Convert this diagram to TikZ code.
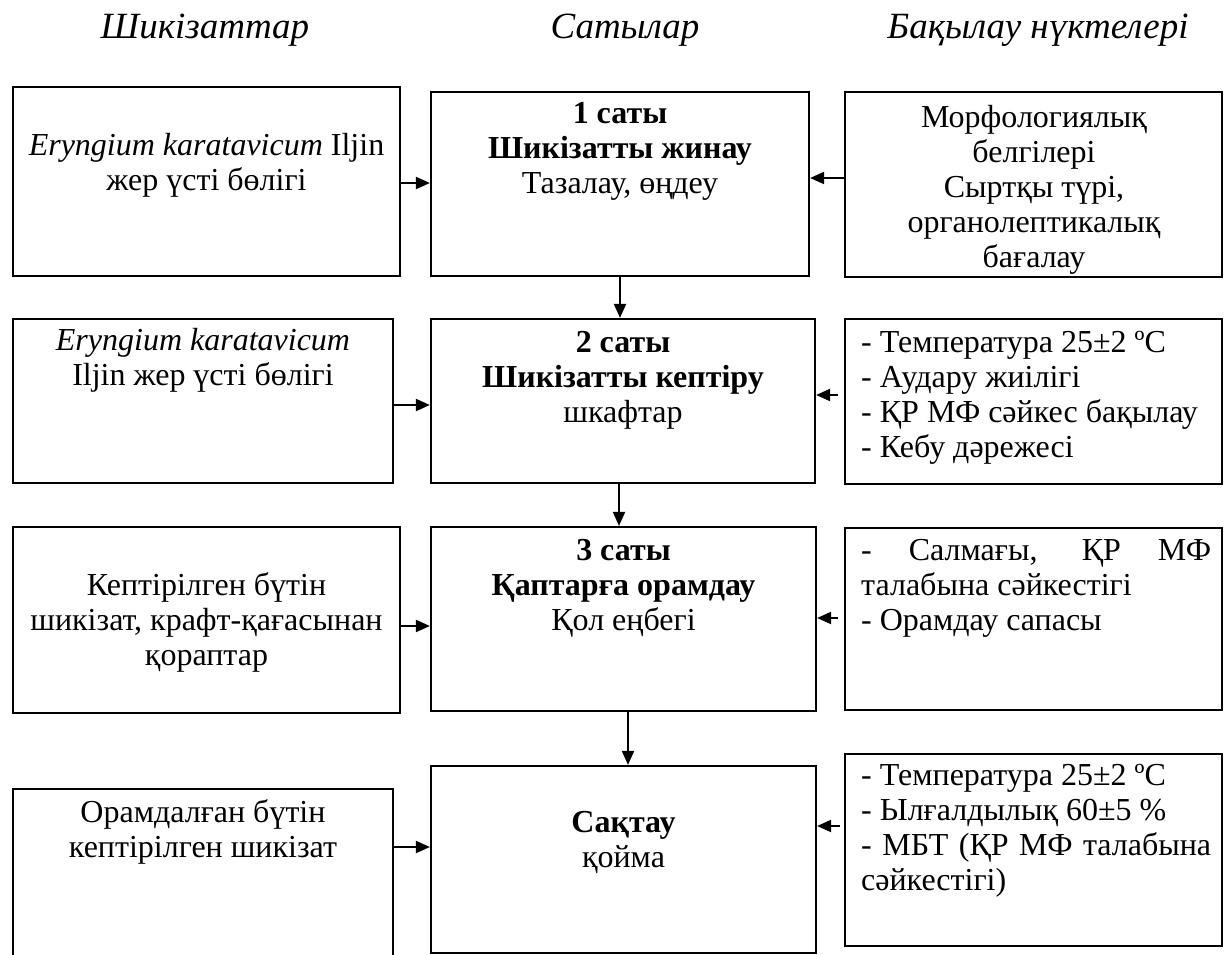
\documentclass[tikz,border=0pt]{standalone}
\usepackage{fontspec}
\setmainfont{Liberation Serif}
\usetikzlibrary{arrows.meta}
\newcommand\mystrut{\rule{0pt}{24pt}}
\begin{document}
\begin{tikzpicture}[x=1pt,y=-1pt,
  bx/.style={draw,line width=2.2pt,inner sep=0pt},
  arr/.style={-{Triangle[length=14pt,width=12pt]},line width=2pt},
  txt/.style={inner sep=0pt,anchor=north,align=center,font=\fontsize{32pt}{35pt}\selectfont},
  ltxt/.style={inner sep=0pt,anchor=north west,align=left,font=\fontsize{32pt}{35pt}\selectfont},
  hdr/.style={inner sep=0pt,anchor=base,font=\fontsize{37pt}{40pt}\selectfont\itshape}]
\useasboundingbox[fill=white] (0,0) rectangle (1224,955);

% headers
\node[hdr] (h1) at (205,39) {Шикізаттар};
\node[hdr] (h2) at (625,39) {Сатылар};
\node[hdr] (h3) at (1038,39) {Бақылау нүктелері};

% boxes
\node[bx,minimum width=387pt,minimum height=189pt] (L1) at (206.5,181.5) {};
\node[bx,minimum width=378pt,minimum height=184pt] (M1) at (620,184) {};
\node[bx,minimum width=377pt,minimum height=185pt] (R1) at (1033.5,184.5) {};
\node[bx,minimum width=380pt,minimum height=164pt] (L2) at (203,401) {};
\node[bx,minimum width=384pt,minimum height=164pt] (M2) at (623,401) {};
\node[bx,minimum width=377pt,minimum height=165pt] (R2) at (1033.5,401.5) {};
\node[bx,minimum width=387pt,minimum height=186pt] (L3) at (206.5,620) {};
\node[bx,minimum width=385pt,minimum height=184pt] (M3) at (623.5,619) {};
\node[bx,minimum width=377pt,minimum height=182pt] (R3) at (1033.5,619) {};
\node[bx,minimum width=380pt,minimum height=177pt] (L4) at (203,877.5) {};
\node[bx,minimum width=385pt,minimum height=187pt] (M4) at (623.5,859.5) {};
\node[bx,minimum width=377pt,minimum height=192pt] (R4) at (1033.5,850) {};

% texts
\node[txt] (tL1) at (206.5,131) {\mystrut\textit{Eryngium karatavicum} Iljin\\жер үсті бөлігі};
\node[txt] (tM1) at (620,99) {\mystrut\textbf{1 саты}\\\textbf{Шикізатты жинау}\\Тазалау, өңдеу};
\node[txt] (tR1) at (1034,103) {\mystrut Морфологиялық\\белгілері\\Сыртқы түрі,\\органолептикалық\\бағалау};
\node[txt] (tL2) at (203,326) {\mystrut\textit{Eryngium karatavicum}\\Iljin жер үсті бөлігі};
\node[txt] (tM2) at (623,328) {\mystrut\textbf{2 саты}\\\textbf{Шикізатты кептіру}\\шкафтар};
\node[ltxt] (tR2) at (861,328) {\mystrut- Температура 25±2 ºC\\- Аудару жиілігі\\- ҚР МФ сәйкес бақылау\\- Кебу дәрежесі};
\node[txt] (tL3) at (206.5,571) {\mystrut Кептірілген бүтін\\шикізат, крафт-қағасынан\\қораптар};
\node[txt] (tM3) at (623.5,536) {\mystrut\textbf{3 саты}\\\textbf{Қаптарға орамдау}\\Қол еңбегі};
\node[ltxt] (tR3) at (861,536) {\mystrut\makebox[350pt][s]{- Салмағы, ҚР МФ}\\талабына сәйкестігі\\- Орамдау сапасы};
\node[txt] (tL4) at (203,798) {\mystrut Орамдалған бүтін\\кептірілген шикізат};
\node[txt] (tM4) at (623.5,808) {\mystrut\textbf{Сақтау}\\қойма};
\node[ltxt] (tR4) at (861,761) {\mystrut- Температура 25±2 ºC\\- Ылғалдылық 60±5 \%\\\makebox[350pt][s]{- МБТ (ҚР МФ талабына}\\сәйкестігі)};

% arrow levels
\coordinate (y1l) at (0,183);
\coordinate (y1r) at (0,178);
\coordinate (y2l) at (0,405);
\coordinate (y2r) at (0,395);
\coordinate (y3l) at (0,626);
\coordinate (y3r) at (0,618);
\coordinate (y4l) at (0,847);
\coordinate (y4r) at (0,826);
\coordinate (x12) at (620,0);
\coordinate (x23) at (619,0);
\coordinate (x34) at (628,0);

% connectors
\draw[arr] (L1.east |- y1l) -- (M1.west |- y1l);
\draw[arr] (R1.west |- y1r) -- (M1.east |- y1r);
\draw[arr] (M1.south -| x12) -- (M2.north -| x12);
\draw[arr] (L2.east |- y2l) -- (M2.west |- y2l);
\draw[arr,shorten <=6pt] (R2.west |- y2r) -- (M2.east |- y2r);
\draw[arr] (M2.south -| x23) -- (M3.north -| x23);
\draw[arr] (L3.east |- y3l) -- (M3.west |- y3l);
\draw[arr,shorten <=6pt] (R3.west |- y3r) -- (M3.east |- y3r);
\draw[arr] (M3.south -| x34) -- (M4.north -| x34);
\draw[arr] (L4.east |- y4l) -- (M4.west |- y4l);
\draw[arr,shorten <=4pt] (R4.west |- y4r) -- (M4.east |- y4r);
\end{tikzpicture}
\end{document}
